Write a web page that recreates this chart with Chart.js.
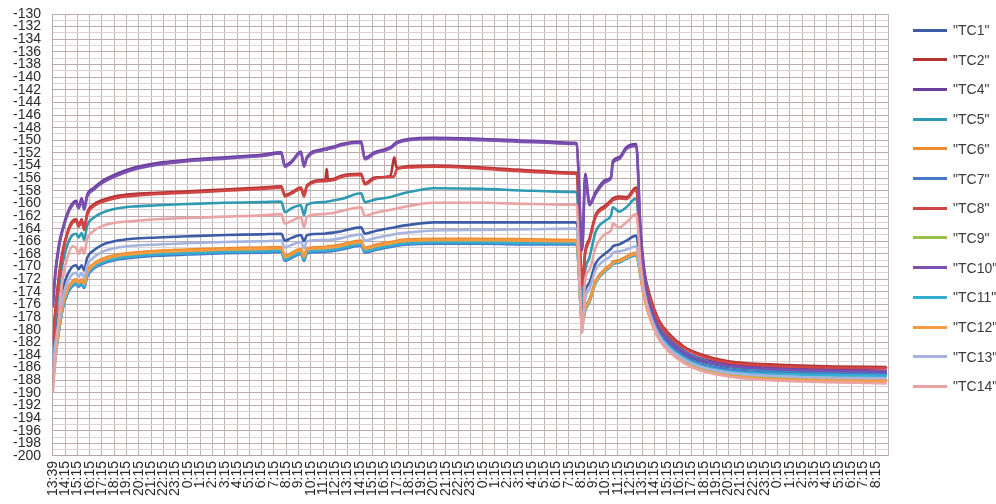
<!DOCTYPE html>
<html>
<head>
<meta charset="utf-8">
<script src="https://cdn.jsdelivr.net/npm/chart.js@4.4.1/dist/chart.umd.min.js"></script>
<style>
  html, body { margin: 0; padding: 0; background: #fff; overflow: hidden; }
  #wrap { position: relative; width: 996px; height: 504px; }
  #legend { position: absolute; left: 0; top: 0; width: 996px; height: 504px; pointer-events: none;
    font-family: "Liberation Sans", Arial, sans-serif; font-size: 14px; color: #3a3a3a; }
  .lg-line { position: absolute; left: 913px; width: 34px; height: 3px; }
  .lg-text { position: absolute; left: 953px; line-height: 16px; white-space: nowrap; }
</style>
</head>
<body>
<div id="wrap">
  <canvas id="chart" width="996" height="504"></canvas>
  <div id="legend"></div>
</div>
<script>
  // ── Data ─────────────────────────────────────────────────────
  // x positions in label slots (0 = "13:39", 1 = "14:15", ...)
  const hrs = [0, 0.2, 0.5, 0.8, 1.2, 1.6, 1.9, 2.1, 2.35, 2.55,
    2.8, 3.3, 4, 5, 6.5, 8.5, 11, 14, 17, 18.6,
    18.9, 19.4, 20.2, 20.45, 20.7, 22, 22.2, 22.3, 22.4, 22.9,
    23.5, 25.1, 25.4, 26.2, 27.5, 27.8, 28, 29, 31, 35,
    39, 42.5, 42.65, 43.1, 43.35, 43.7, 44.2, 45, 45.45, 45.6,
    46.1, 46.7, 47.5, 47.85, 48.15, 48.6, 49.3, 50.1, 51.4, 52.6,
    55, 58.3, 63, 67.9];

  const timeLabels = ['13:39', '14:15', '15:15', '16:15', '17:15', '18:15', '19:15', '20:15', '21:15', '22:15', '23:15',
    '0:15', '1:15', '2:15', '3:15', '4:15', '5:15', '6:15', '7:15', '8:15', '9:15', '10:15', '11:15',
    '12:15', '13:15', '14:15', '15:15', '16:15', '17:15', '18:15', '19:15', '20:15', '21:15', '22:15', '23:15',
    '0:15', '1:15', '2:15', '3:15', '4:15', '5:15', '6:15', '7:15', '8:15', '9:15', '10:15', '11:15',
    '12:15', '13:15', '14:15', '15:15', '16:15', '17:15', '18:15', '19:15', '20:15', '21:15', '22:15', '23:15',
    '0:15', '1:15', '2:15', '3:15', '4:15', '5:15', '6:15', '7:15', '8:15'];

  const seriesNames = ['"TC1"', '"TC2"', '"TC4"', '"TC5"', '"TC6"', '"TC7"', '"TC8"', '"TC9"', '"TC10"', '"TC11"', '"TC12"', '"TC13"', '"TC14"'];
  const seriesColors = ['#3c5ca8', '#b23434', '#6a3fa0', '#2f9bb3', '#ef8a30', '#4a78c8', '#d24545', '#9bc04a', '#7a50b0', '#35aed4', '#f79a40', '#a5b3df', '#e9a3a3'];

  const tc1 = [-186, -181, -177, -173.5, -171.3, -170.0, -169.8, -170.4, -169.8, -170.6,
    -168.6, -167.5, -166.6, -166.0, -165.6, -165.4, -165.2, -165.0, -164.9, -164.8,
    -165.9, -165.5, -165.0, -166.0, -165.0, -164.8, -164.8, -164.7, -164.7, -164.6,
    -164.4, -163.8, -164.8, -164.4, -163.9, -163.8, -163.7, -163.4, -163.0, -163.0,
    -163.0, -163.0, -163.1, -177, -173.8, -172.5, -169.5, -167.9, -167.2, -166.8,
    -166.5, -165.9, -165.1, -170, -173, -176.5, -179.8, -181.8, -183.8, -184.9,
    -185.9, -186.4, -186.6, -186.7];
  const tc2 = [-182, -177, -171.5, -167.5, -164.5, -162.8, -162.5, -163.5, -162.5, -164.0,
    -161.5, -160.2, -159.5, -158.9, -158.5, -158.3, -158.1, -157.8, -157.5, -157.3,
    -158.7, -158.3, -157.5, -158.7, -157.1, -156.3, -156.3, -154.5, -156.2, -156.1,
    -155.6, -155.3, -156.8, -155.9, -155.6, -152.7, -154.4, -154.1, -154.0, -154.3,
    -154.8, -155.1, -155.2, -172.5, -167.5, -165.5, -161.8, -160.3, -159.5, -159.2,
    -158.9, -159.0, -157.5, -166, -170.8, -174.5, -178.3, -180.5, -182.7, -183.8,
    -185.0, -185.5, -185.8, -185.9];
  const tc4 = [-176, -171, -166.5, -164, -161.5, -160, -159.6, -160.6, -159.2, -160.8,
    -158.6, -157.6, -156.5, -155.5, -154.4, -153.6, -153.1, -152.7, -152.3, -151.9,
    -154.0, -153.4, -151.8, -154.0, -152.6, -151.4, -151.3, -151.3, -151.2, -151.0,
    -150.6, -150.2, -152.8, -151.9, -151.1, -150.6, -150.3, -149.8, -149.6, -149.8,
    -150.1, -150.4, -150.5, -167, -155.3, -160, -158.2, -156.3, -155.8, -153.3,
    -152.7, -151.1, -150.6, -164, -170.5, -175.5, -179.3, -181.3, -183.4, -184.5,
    -185.5, -186.0, -186.3, -186.5];
  const tc5 = [-184, -179, -173.5, -169.5, -166.5, -165.0, -164.8, -165.4, -164.7, -165.8,
    -163.5, -162.3, -161.5, -160.9, -160.5, -160.3, -160.1, -159.9, -159.8, -159.7,
    -161.4, -160.8, -160.3, -161.9, -160.2, -159.8, -159.8, -159.7, -159.7, -159.5,
    -159.3, -158.4, -159.8, -159.4, -159.0, -158.8, -158.7, -158.2, -157.6, -157.7,
    -158.0, -158.2, -158.3, -175.5, -170.5, -168.5, -164.5, -162.7, -161.9, -160.6,
    -161.3, -160.6, -159.2, -167.5, -172, -175.8, -179.5, -181.5, -183.5, -184.6,
    -185.8, -186.4, -186.8, -187.1];
  const tc6 = [-188, -184, -179.5, -176, -173.5, -172.3, -172.0, -172.4, -172.0, -172.6,
    -170.8, -169.6, -168.8, -168.2, -167.8, -167.5, -167.3, -167.1, -167.0, -166.9,
    -168.3, -167.9, -167.2, -168.3, -167.1, -166.9, -166.9, -166.8, -166.8, -166.7,
    -166.5, -165.9, -167.0, -166.6, -166.1, -166.0, -165.9, -165.7, -165.6, -165.6,
    -165.7, -165.8, -165.8, -179, -176.5, -175.2, -172.2, -170.3, -169.6, -169.2,
    -169.0, -168.4, -167.8, -171.5, -174.8, -178, -181.2, -183.2, -185.1, -186.2,
    -187.2, -187.7, -187.9, -188.0];
  const tc7 = [-188.7, -184.7, -180.3, -176.8, -174.3, -173.1, -172.8, -173.2, -172.8, -173.4,
    -171.6, -170.4, -169.6, -169.0, -168.6, -168.3, -168.1, -167.9, -167.8, -167.7,
    -169.1, -168.7, -168.0, -169.1, -167.9, -167.7, -167.7, -167.6, -167.6, -167.5,
    -167.3, -166.7, -167.8, -167.4, -166.9, -166.8, -166.7, -166.5, -166.4, -166.4,
    -166.5, -166.5, -166.6, -178.8, -176.6, -175.3, -172.4, -170.5, -169.8, -169.4,
    -169.2, -168.6, -168.1, -170.8, -173.8, -176.9, -180.2, -182.2, -184.2, -185.3,
    -186.3, -186.8, -187.0, -187.0];
  const tc8 = [-182.5, -177.5, -172, -168, -164.8, -163.1, -162.8, -163.7, -162.8, -164.2,
    -161.8, -160.5, -159.8, -159.2, -158.8, -158.5, -158.3, -158.0, -157.7, -157.5,
    -158.9, -158.5, -157.7, -158.9, -157.3, -156.5, -156.5, -156.5, -156.4, -156.3,
    -155.8, -155.5, -157.0, -156.1, -155.8, -155.7, -154.6, -154.3, -154.2, -154.5,
    -155.0, -155.3, -155.4, -173, -168, -165.8, -162.1, -160.6, -159.8, -159.5,
    -159.2, -159.3, -157.8, -166.4, -171.1, -174.8, -178.6, -180.8, -182.9, -184.0,
    -185.2, -185.7, -186.0, -186.1];
  const tc9 = [-188.4, -184.4, -179.9, -176.4, -173.9, -172.7, -172.4, -172.8, -172.4, -173.0,
    -171.2, -170.0, -169.2, -168.6, -168.2, -167.9, -167.7, -167.5, -167.4, -167.3,
    -168.7, -168.3, -167.6, -168.7, -167.5, -167.3, -167.3, -167.2, -167.2, -167.1,
    -166.9, -166.3, -167.4, -167.0, -166.5, -166.4, -166.3, -166.1, -166.0, -166.0,
    -166.1, -166.2, -166.2, -179.1, -176.8, -175.5, -172.5, -170.6, -169.9, -169.5,
    -169.3, -168.7, -168.2, -171.4, -174.6, -177.7, -181.0, -183.0, -184.9, -186.0,
    -187.0, -187.5, -187.6, -187.6];
  const tc10 = [-176.5, -171.5, -167, -164.3, -161.8, -160.3, -159.9, -160.8, -159.5, -161.0,
    -158.9, -157.9, -156.8, -155.8, -154.7, -153.9, -153.3, -152.9, -152.5, -152.1,
    -154.2, -153.6, -152.0, -154.2, -152.8, -151.6, -151.5, -151.5, -151.4, -151.2,
    -150.8, -150.4, -153.0, -152.1, -151.3, -150.8, -150.5, -150.0, -149.8, -150.0,
    -150.3, -150.6, -150.7, -167.5, -155.8, -160.3, -158.5, -156.6, -156.0, -153.6,
    -153.0, -151.4, -150.9, -164.5, -171, -175.8, -179.6, -181.6, -183.6, -184.7,
    -185.7, -186.2, -186.5, -186.6];
  const tc11 = [-188.5, -184.5, -180, -176.6, -174.1, -172.9, -172.6, -173.0, -172.6, -173.2,
    -171.4, -170.2, -169.4, -168.8, -168.4, -168.1, -167.9, -167.7, -167.6, -167.5,
    -168.9, -168.5, -167.8, -168.9, -167.7, -167.5, -167.5, -167.4, -167.4, -167.3,
    -167.1, -166.5, -167.6, -167.2, -166.7, -166.6, -166.5, -166.3, -166.2, -166.2,
    -166.3, -166.3, -166.4, -179, -177, -175.6, -172.6, -170.7, -170.0, -169.6,
    -169.4, -168.8, -168.3, -171.2, -174.2, -177.3, -180.6, -182.6, -184.5, -185.6,
    -186.6, -187.0, -187.2, -187.3];
  const tc12 = [-188.3, -184.3, -179.8, -176.2, -173.7, -172.5, -172.2, -172.6, -172.2, -172.8,
    -171.0, -169.8, -169.0, -168.4, -168.0, -167.7, -167.5, -167.3, -167.2, -167.1,
    -168.5, -168.1, -167.4, -168.5, -167.3, -167.1, -167.1, -167.0, -167.0, -166.9,
    -166.7, -166.1, -167.2, -166.8, -166.3, -166.2, -166.1, -165.9, -165.8, -165.8,
    -165.9, -166.0, -166.0, -179.2, -176.7, -175.4, -172.4, -170.5, -169.8, -169.4,
    -169.2, -168.6, -168.0, -171.6, -174.9, -178.1, -181.3, -183.3, -185.2, -186.3,
    -187.3, -187.8, -188.0, -188.1];
  const tc13 = [-187, -182.5, -178.5, -175, -172.5, -171.2, -171, -171.6, -171, -171.8,
    -169.8, -168.6, -167.7, -167.1, -166.7, -166.5, -166.3, -166.1, -166.0, -165.9,
    -167.0, -166.6, -166.1, -167.1, -166.0, -165.8, -165.8, -165.8, -165.8, -165.7,
    -165.5, -164.9, -165.9, -165.5, -165.0, -164.9, -164.8, -164.6, -164.3, -164.2,
    -164.1, -164.0, -164.1, -179.5, -175, -173.5, -170.5, -168.9, -168.3, -167.8,
    -167.6, -167.3, -166.8, -171, -174.3, -177.5, -180.8, -182.8, -184.7, -185.8,
    -186.8, -187.3, -187.6, -187.7];
  const tc14 = [-190, -185, -178, -172, -168.5, -166.8, -167, -168, -167, -168,
    -165.6, -164.4, -163.6, -163.1, -162.8, -162.5, -162.3, -162.1, -161.9, -161.7,
    -163.2, -162.8, -162.2, -163.8, -162.1, -161.7, -161.7, -161.6, -161.6, -161.5,
    -161.2, -160.6, -162.0, -161.5, -161.0, -160.9, -160.8, -160.4, -159.9, -159.9,
    -160.1, -160.2, -160.3, -180.5, -172, -170.5, -167, -164.8, -164.3, -163.2,
    -163.8, -163.0, -161.7, -169.5, -174, -177.8, -181.3, -183.3, -185.3, -186.4,
    -187.4, -188.0, -188.3, -188.5];

  const seriesValues = [tc1, tc2, tc4, tc5, tc6, tc7, tc8, tc9, tc10, tc11, tc12, tc13, tc14];

  // ── Chart ────────────────────────────────────────────────────
  const FONT = '"Liberation Sans", Arial, sans-serif';
  Chart.defaults.font.family = FONT;
  Chart.defaults.color = '#3a3a3a';

  const datasets = seriesNames.map((name, i) => ({
    label: name,
    data: hrs.map((x, j) => ({ x: x, y: seriesValues[i][j] })),
    borderColor: seriesColors[i],
    backgroundColor: seriesColors[i],
    borderWidth: 2.6,
    pointRadius: 0,
    cubicInterpolationMode: 'monotone',
    order: -i
  }));

  new Chart(document.getElementById('chart'), {
    type: 'line',
    data: { datasets },
    options: {
      responsive: false,
      animation: false,
      layout: { padding: { left: 9, right: 108, top: 14, bottom: 3 } },
      plugins: { legend: { display: false }, tooltip: { enabled: false } },
      scales: {
        x: {
          type: 'linear', min: 0, max: 68,
          grid: { color: '#c4b4b6', lineWidth: 1, drawTicks: false },
          border: { color: '#b9a7a9' },
          ticks: {
            stepSize: 1, autoSkip: false, minRotation: 90, maxRotation: 90, padding: 5,
            font: { size: 14 }, color: '#2a2a2a',
            callback: (v) => timeLabels[v] ?? ''
          }
        },
        y: {
          min: -200, max: -130,
          grid: {
            drawTicks: false,
            color: (c) => (c.tick && c.tick.value % 2 === 0) ? '#bcaaac' : '#ddd2d4'
          },
          border: { color: '#b9a7a9' },
          ticks: {
            stepSize: 1, autoSkip: false, padding: 4,
            font: { size: 14 }, color: '#2a2a2a',
            // trailing spaces keep the labels clear of the axis like the original
            callback: (v) => v % 2 === 0 ? String(v) + '  ' : ''
          }
        }
      }
    }
  });

  // ── Legend ───────────────────────────────────────────────────
  const legend = document.getElementById('legend');
  seriesNames.forEach((name, i) => {
    const cy = 30 + i * 29.7;
    const line = document.createElement('div');
    line.className = 'lg-line';
    line.style.top = (cy - 1.5) + 'px';
    line.style.background = seriesColors[i];
    const txt = document.createElement('div');
    txt.className = 'lg-text';
    txt.style.top = (cy - 8) + 'px';
    txt.textContent = name;
    legend.appendChild(line);
    legend.appendChild(txt);
  });
</script>
</body>
</html>
